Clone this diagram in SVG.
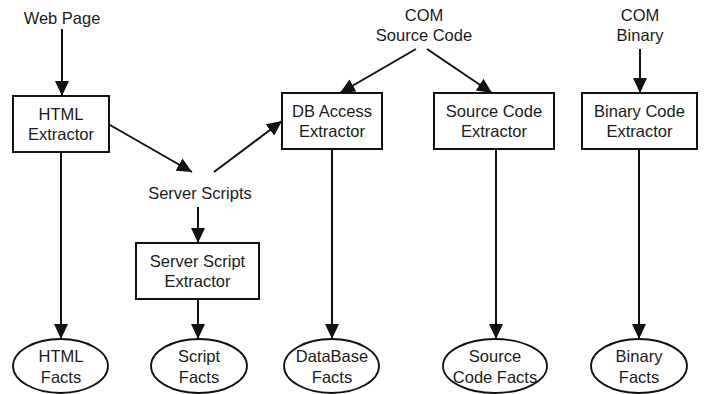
<svg xmlns="http://www.w3.org/2000/svg" width="704" height="394" viewBox="0 0 704 394">
  <defs>
    <marker id="arrow" markerUnits="userSpaceOnUse" markerWidth="15" markerHeight="14" refX="15" refY="7" orient="auto">
      <path d="M0,0 L15,7 L0,14 z" fill="#111"/>
    </marker>
  </defs>
  <style>
    text { font-family: "Liberation Sans", Arial, sans-serif; font-size: 16.5px; fill: #1a1a1a; text-anchor: middle; }
    .box { fill: #fff; stroke: #111; stroke-width: 2; }
    .fact { fill: #fff; stroke: #111; stroke-width: 1.8; }
    .edge { stroke: #111; stroke-width: 2; fill: none; marker-end: url(#arrow); }
  </style>
  <rect width="704" height="394" fill="#fff"/>

  <!-- connectors -->
  <g id="connectors">
    <line class="edge" x1="62" y1="29" x2="62" y2="96"/>
    <line class="edge" x1="110" y1="125" x2="192" y2="172"/>
    <line class="edge" x1="214" y1="172" x2="282" y2="121"/>
    <line class="edge" x1="416" y1="49" x2="340" y2="93"/>
    <line class="edge" x1="427" y1="49" x2="492" y2="93"/>
    <line class="edge" x1="640" y1="49" x2="640" y2="93"/>
    <line class="edge" x1="198" y1="207" x2="198" y2="243"/>
    <line class="edge" x1="61" y1="152" x2="61" y2="339"/>
    <line class="edge" x1="198" y1="299" x2="198" y2="339"/>
    <line class="edge" x1="332" y1="149" x2="332" y2="339"/>
    <line class="edge" x1="496" y1="149" x2="496" y2="339"/>
    <line class="edge" x1="639" y1="149" x2="639" y2="339"/>
  </g>

  <!-- inputs -->
  <g id="web-page"><text x="62" y="24">Web Page</text></g>
  <g id="com-source"><text x="424" y="21">COM</text><text x="424" y="41">Source Code</text></g>
  <g id="com-binary"><text x="640" y="21">COM</text><text x="640" y="41">Binary</text></g>
  <g id="server-scripts"><text x="200" y="199">Server Scripts</text></g>

  <!-- extractors -->
  <g id="html-extractor">
    <rect class="box" x="13" y="96" width="96" height="56"/>
    <text x="61" y="120">HTML</text><text x="61" y="140">Extractor</text>
  </g>
  <g id="db-access-extractor">
    <rect class="box" x="282" y="93" width="100" height="56"/>
    <text x="332" y="117">DB Access</text><text x="332" y="137">Extractor</text>
  </g>
  <g id="source-code-extractor">
    <rect class="box" x="434" y="93" width="120" height="56"/>
    <text x="494" y="117">Source Code</text><text x="494" y="137">Extractor</text>
  </g>
  <g id="binary-code-extractor">
    <rect class="box" x="582" y="93" width="115" height="56"/>
    <text x="639.5" y="117">Binary Code</text><text x="639.5" y="137">Extractor</text>
  </g>
  <g id="server-script-extractor">
    <rect class="box" x="136" y="243" width="123" height="56"/>
    <text x="197.5" y="267">Server Script</text><text x="197.5" y="287">Extractor</text>
  </g>

  <!-- fact stores -->
  <g id="html-facts">
    <ellipse class="fact" cx="60.5" cy="366" rx="47.5" ry="27"/>
    <text x="61" y="362">HTML</text><text x="61" y="383">Facts</text>
  </g>
  <g id="script-facts">
    <ellipse class="fact" cx="199" cy="366" rx="48" ry="27"/>
    <text x="199" y="362">Script</text><text x="199" y="383">Facts</text>
  </g>
  <g id="database-facts">
    <ellipse class="fact" cx="331.5" cy="366" rx="47.5" ry="27"/>
    <text x="332" y="362">DataBase</text><text x="332" y="383">Facts</text>
  </g>
  <g id="source-code-facts">
    <ellipse class="fact" cx="495" cy="366" rx="52" ry="27"/>
    <text x="495" y="362">Source</text><text x="495" y="383">Code Facts</text>
  </g>
  <g id="binary-facts">
    <ellipse class="fact" cx="639" cy="366" rx="48" ry="27"/>
    <text x="639" y="362">Binary</text><text x="639" y="383">Facts</text>
  </g>
</svg>
